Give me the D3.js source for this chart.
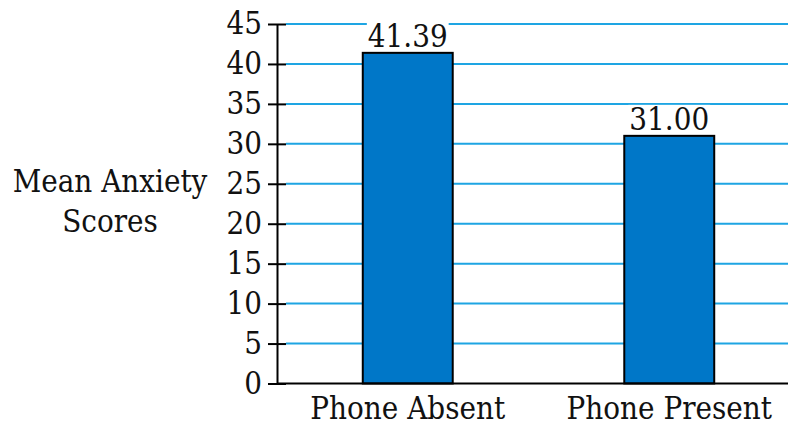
<!DOCTYPE html>
<html>
<head>
<meta charset="utf-8">
<script src="https://cdn.jsdelivr.net/npm/d3@7"></script>
<style>
  html, body { margin: 0; padding: 0; background: #fff; }
  svg { display: block; }
  text { font-family: "DejaVu Serif Condensed", "DejaVu Serif", serif; fill: #111; }
</style>
</head>
<body>
<svg id="chart" width="788" height="425"></svg>
<script>
// Mean anxiety score by phone condition
const categories = ["Phone Absent", "Phone Present"];
const meanScores = [41.39, 31.00];
const yTicks = [0, 5, 10, 15, 20, 25, 30, 35, 40, 45];
const yTitleLines = ["Mean Anxiety", "Scores"];

const W = 788, H = 425;
const axisX = 277, baseY = 383.5, topY = 24;
const fontSize = 31;

const svg = d3.select("#chart");

const y = d3.scaleLinear().domain([0, 45]).range([baseY, topY]);
const x = d3.scaleBand().domain(categories)
  .range([axisX, 800])
  .paddingInner(0.656)
  .paddingOuter(0.328);

// horizontal gridlines
svg.append("g").selectAll("line")
  .data(yTicks.filter(d => d > 0))
  .join("line")
  .attr("x1", axisX + 9).attr("x2", W)
  .attr("y1", d => y(d)).attr("y2", d => y(d))
  .attr("stroke", "#1ea5e3").attr("stroke-width", 2);

// bars
svg.append("g").selectAll("rect")
  .data(meanScores)
  .join("rect")
  .attr("x", (d, i) => x(categories[i]))
  .attr("width", x.bandwidth())
  .attr("y", d => y(d))
  .attr("height", d => y(0) - y(d))
  .attr("fill", "#0077c8")
  .attr("stroke", "#000").attr("stroke-width", 2);

// value labels with white backing so gridlines don't run through them
const labels = svg.append("g").selectAll("g")
  .data(meanScores)
  .join("g")
  .attr("transform", (d, i) => `translate(${x(categories[i]) + x.bandwidth() / 2},${y(d) - 6})`);
labels.append("text")
  .attr("text-anchor", "middle")
  .attr("font-size", fontSize)
  .text(d => d.toFixed(2));
labels.each(function () {
  const g = d3.select(this);
  const b = g.select("text").node().getBBox();
  g.insert("rect", "text")
    .attr("x", b.x - 1).attr("y", b.y + 4)
    .attr("width", b.width + 2).attr("height", -b.y - 3)
    .attr("fill", "#fff");
});

// y axis
const yAxis = svg.append("g")
  .attr("transform", `translate(${axisX},0)`)
  .call(d3.axisLeft(y).tickValues(yTicks).tickSizeInner(9).tickSizeOuter(0).tickPadding(6));
yAxis.select(".domain").attr("stroke", "#000").attr("stroke-width", 2);
yAxis.selectAll(".tick line").attr("x2", 9).attr("x1", -9)
  .attr("stroke", "#000").attr("stroke-width", 2);
yAxis.selectAll(".tick text")
  .attr("font-size", fontSize)
  .attr("font-family", "'DejaVu Serif Condensed', 'DejaVu Serif', serif")
  .attr("fill", "#111")
  .attr("x", -15);

// x baseline
svg.append("line")
  .attr("x1", axisX).attr("x2", W)
  .attr("y1", y(0)).attr("y2", y(0))
  .attr("stroke", "#000").attr("stroke-width", 2);

// category labels
svg.append("g").selectAll("text")
  .data(categories)
  .join("text")
  .attr("x", d => x(d) + x.bandwidth() / 2)
  .attr("y", 419)
  .attr("text-anchor", "middle")
  .attr("font-size", fontSize)
  .text(d => d);

// y title
svg.append("text")
  .attr("text-anchor", "middle")
  .attr("font-size", fontSize)
  .selectAll("tspan")
  .data(yTitleLines)
  .join("tspan")
  .attr("x", 110)
  .attr("y", (d, i) => 192 + i * 40)
  .text(d => d);
</script>
</body>
</html>
